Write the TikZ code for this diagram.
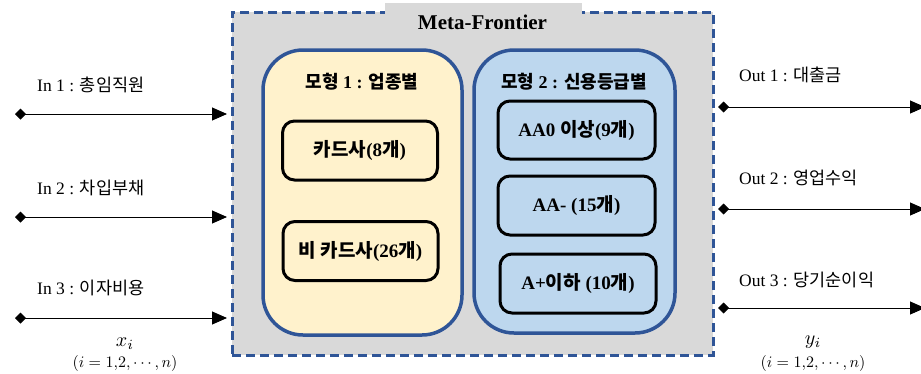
\documentclass[tikz,border=0pt]{standalone}
\usepackage{graphicx}
\usepackage{fontspec}
\setmainfont{Liberation Serif}
\newfontfamily\krfont{Noto Sans CJK KR}
\newcommand{\kr}[1]{{\krfont #1}}
\usetikzlibrary{arrows.meta}
\definecolor{frameblue}{HTML}{2F5597}
\definecolor{bggray}{HTML}{D9D9D9}
\definecolor{paleyellow}{HTML}{FFF2CC}
\definecolor{paleblue}{HTML}{BDD7EE}
\tikzset{
  groupbox/.style={draw=frameblue, line width=3.5pt, rounded corners=40pt, inner sep=0pt},
  itembox/.style={draw=black, line width=3pt, rounded corners=12pt, inner sep=0pt,
    font=\fontsize{19}{22}\selectfont\bfseries},
  flow/.style={line width=0.9pt, {Diamond[length=11pt,width=11pt]}-{Triangle[length=15pt,width=13pt]}},
  lbl/.style={anchor=west, inner sep=0pt, font=\fontsize{17.5}{20}\selectfont},
  mathlbl/.style={inner sep=0pt},
  grptitle/.style={inner sep=0pt, font=\fontsize{18}{21}\selectfont\bfseries}
}
\begin{document}
\begin{tikzpicture}[x=1pt,y=-1pt]
\useasboundingbox (0,0) rectangle (921,373);
\fill[white] (0,0) rectangle (921,373);
% outer meta-frontier frame
\node[draw=frameblue, fill=bggray, line width=3pt, dash pattern=on 9pt off 5pt,
  minimum width=481pt, minimum height=343pt, inner sep=0pt] (meta) at (472.5,183.5) {};
\fill[bggray] (385,3) rectangle (582,16);
\node[inner sep=0pt, font=\fontsize{21}{25}\selectfont\bfseries] (metat) at (482.5,22) {Meta-Frontier};
% group boxes
\node[groupbox, fill=paleyellow, minimum width=199pt, minimum height=285pt] (g1) at (362.5,192.5) {};
\node[groupbox, fill=paleblue, minimum width=201pt, minimum height=283pt] (g2) at (574.5,191.5) {};
\node[grptitle] (g1t) at (362,82) {\kr{모형} 1 : \kr{업종별}};
\node[grptitle] (g2t) at (574,82) {\kr{모형} 2 : \kr{신용등급별}};
% items
\node[itembox, minimum width=155pt, minimum height=59pt] (c1) at (360,150.5) {\kr{카드사}(8\kr{개})};
\node[itembox, minimum width=155pt, minimum height=59pt] (c2) at (360.5,251) {\kr{비 카드사}(26\kr{개})};
\node[itembox, minimum width=157pt, minimum height=58pt] (r1) at (576.5,130) {AA0 \kr{이상}(9\kr{개})};
\node[itembox, minimum width=157pt, minimum height=59pt] (r2) at (576.5,205.5) {AA- (15\kr{개})};
\node[itembox, minimum width=156pt, minimum height=59pt] (r3) at (578,283.5) {A+\kr{이하} (10\kr{개})};
% inputs
\coordinate (i1s) at (15,114);  \coordinate (i1e) at (227,114);
\coordinate (i2s) at (15,217);  \coordinate (i2e) at (227,217);
\coordinate (i3s) at (15,318);  \coordinate (i3e) at (227,318);
\draw[flow] (i1s) -- (i1e);
\draw[flow] (i2s) -- (i2e);
\draw[flow] (i3s) -- (i3e);
\node[lbl] (in1) at (37,85) {In 1 : \kr{총임직원}};
\node[lbl] (in2) at (37,188) {In 2 : \kr{차입부채}};
\node[lbl] (in3) at (37,288) {In 3 : \kr{이자비용}};
\node[mathlbl] (xi) at (125,344) {\scalebox{2.0}{$x_i$}};
\node[mathlbl] (xr) at (125,363) {\scalebox{1.6}{$(i=1{,}2{,}\cdots,n)$}};
% outputs
\coordinate (o1s) at (718,107);  \coordinate (o1e) at (925,107);
\coordinate (o2s) at (718,209);  \coordinate (o2e) at (925,209);
\coordinate (o3s) at (718,308);  \coordinate (o3e) at (925,308);
\draw[flow] (o1s) -- (o1e);
\draw[flow] (o2s) -- (o2e);
\draw[flow] (o3s) -- (o3e);
\node[lbl] (out1) at (739,75) {Out 1 : \kr{대출금}};
\node[lbl] (out2) at (739,178) {Out 2 : \kr{영업수익}};
\node[lbl] (out3) at (739,280) {Out 3 : \kr{당기순이익}};
\node[mathlbl] (yi) at (813,342) {\scalebox{2.0}{$y_i$}};
\node[mathlbl] (yr) at (813,363) {\scalebox{1.6}{$(i=1{,}2{,}\cdots,n)$}};
\end{tikzpicture}
\end{document}
